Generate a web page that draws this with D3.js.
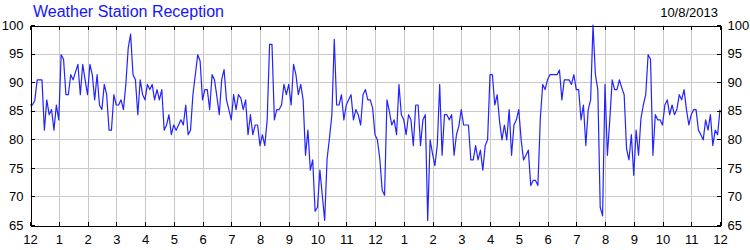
<!DOCTYPE html>
<html>
<head>
<meta charset="utf-8">
<script src="https://cdn.jsdelivr.net/npm/d3@7"></script>
<style>
  html, body { margin: 0; padding: 0; background: #fff; }
  svg { display: block; }
</style>
</head>
<body>
<svg id="chart" width="750" height="250"></svg>
<script>
const title = "Weather Station Reception";
const dateLabel = "10/8/2013";
const intervalMinutes = 5;
const yTicks = [65, 70, 75, 80, 85, 90, 95, 100];
const xTickHours = [0,1,2,3,4,5,6,7,8,9,10,11,12,13,14,15,16,17,18,19,20,21,22,23,24];
const xTickLabels = ["12","1","2","3","4","5","6","7","8","9","10","11","12","1","2","3","4","5","6","7","8","9","10","11","12"];
const reception = [
  86.0,86.0,86.8,90.4,90.4,90.4,81.6,86.9,84.3,85.2,81.6,86.0,83.4,94.8,94.0,87.8,87.8,91.3,90.4,91.8,
  93.1,87.8,93.1,90.4,87.8,93.1,91.3,86.9,91.3,86.0,85.2,89.6,87.8,81.6,81.6,87.8,86.0,86.0,86.9,85.2,
  89.6,96.0,98.4,91.3,90.4,84.3,90.4,87.8,86.9,89.6,88.7,89.6,86.9,88.7,86.9,88.7,81.6,82.5,84.3,80.8,
  82.5,81.6,82.5,83.4,82.5,86.0,80.8,81.6,87.8,91.3,94.8,93.7,86.9,88.7,88.7,85.2,91.3,90.4,87.5,84.3,
  90.4,92.2,86.9,85.2,83.4,87.8,85.2,87.8,87.2,85.2,86.9,80.8,84.3,80.8,82.5,82.5,78.9,80.8,78.9,83.4,
  96.6,96.6,83.4,85.2,85.2,86.0,89.6,87.8,89.6,86.0,93.1,91.3,87.8,89.6,86.9,77.2,81.6,74.6,76.4,67.4,
  68.1,74.6,70.2,65.8,76.6,80.2,84.3,97.5,86.0,86.0,87.8,83.4,86.0,86.9,87.8,83.4,85.2,84.3,82.5,87.8,
  88.7,86.9,86.9,85.5,80.8,79.9,76.6,71.1,70.2,86.9,84.9,82.5,83.4,80.8,89.6,84.3,83.4,80.8,84.3,83.4,
  78.9,86.0,86.0,78.9,83.4,84.3,65.8,79.9,77.5,75.4,79.0,89.6,77.2,84.3,84.3,83.4,84.3,77.2,80.8,82.3,
  85.2,82.5,82.5,82.5,76.4,76.4,78.9,76.4,78.1,74.6,78.9,79.9,91.3,91.3,86.0,87.8,83.1,79.9,82.5,79.9,
  85.2,77.2,82.5,83.4,85.2,79.9,76.4,77.2,78.1,71.9,72.8,72.8,71.9,83.6,89.6,88.7,90.4,91.3,91.3,91.3,
  91.3,92.1,86.9,90.4,90.4,90.4,89.6,91.3,88.7,88.7,83.4,86.0,78.9,85.2,86.9,100.0,91.3,88.7,68.1,66.6,
  89.6,77.2,83.4,90.4,88.7,88.7,90.4,89.0,87.8,78.3,76.4,80.8,73.7,81.6,77.2,83.6,86.0,87.8,94.8,94.0,
  77.2,84.3,83.4,83.4,82.5,86.0,86.9,84.3,86.0,84.3,85.2,87.8,86.9,88.7,85.2,82.5,84.3,85.2,85.2,81.6,
  80.8,79.9,83.4,81.6,84.3,78.9,81.6,80.8,85.2
];

const svg = d3.select("#chart");
const W = 750, H = 250;
const m = { left: 30, right: 30, top: 25, bottom: 25 };
const x = d3.scaleLinear().domain([0, 24]).range([m.left, W - m.right]);
const y = d3.scaleLinear().domain([65, 100]).range([H - m.bottom, m.top]);
const font = "Arial, 'Liberation Sans', sans-serif";

// gridlines
const grid = svg.append("g").attr("stroke", "#c8c8c8").attr("stroke-width", 1).attr("shape-rendering", "crispEdges");
grid.selectAll("line.v").data(xTickHours.slice(1, -1)).join("line")
  .attr("x1", d => Math.round(x(d)) + 0.5).attr("x2", d => Math.round(x(d)) + 0.5)
  .attr("y1", y(100)).attr("y2", y(65));
grid.selectAll("line.h").data(yTicks.slice(1, -1)).join("line")
  .attr("class", "h")
  .attr("y1", d => Math.round(y(d)) + 0.5).attr("y2", d => Math.round(y(d)) + 0.5)
  .attr("x1", x(0)).attr("x2", x(24));

// data line
const line = d3.line()
  .x((d, i) => x(i * intervalMinutes / 60))
  .y(d => y(d));
svg.append("path").datum(reception)
  .attr("fill", "none").attr("stroke", "#2323ff").attr("stroke-width", 1.2)
  .attr("stroke-linejoin", "round")
  .attr("d", line);

// axes (ticks inside)
const tick = 4;
const axB = svg.append("g").attr("transform", `translate(0,${y(65) + 0.5})`)
  .call(d3.axisBottom(x).tickValues(xTickHours).tickSize(-tick).tickSizeOuter(0).tickFormat((d, i) => xTickLabels[i]));
const axT = svg.append("g").attr("transform", `translate(0,${y(100) + 0.5})`)
  .call(d3.axisTop(x).tickValues(xTickHours).tickSize(-tick).tickSizeOuter(0).tickFormat(""));
const axL = svg.append("g").attr("transform", `translate(${x(0) + 0.5},0)`)
  .call(d3.axisLeft(y).tickValues(yTicks).tickSize(-tick).tickSizeOuter(0).tickFormat(d3.format("d")));
const axR = svg.append("g").attr("transform", `translate(${x(24) + 0.5},0)`)
  .call(d3.axisRight(y).tickValues(yTicks).tickSize(-tick).tickSizeOuter(0).tickFormat(d3.format("d")));

[axB, axT, axL, axR].forEach(g => {
  g.attr("font-family", font).attr("font-size", 13);
  g.selectAll("path, line").attr("stroke", "#000").attr("shape-rendering", "crispEdges");
  g.selectAll("text").attr("fill", "#000");
});
axB.selectAll("text").attr("dy", null).attr("y", 18);
axL.selectAll("text").attr("x", -7);
axR.selectAll("text").attr("x", 7);

// title & date
svg.append("text").attr("x", 33).attr("y", 17).attr("font-family", font).attr("font-size", 16)
  .attr("fill", "#1414ff").text(title);
svg.append("text").attr("x", 718).attr("y", 16.5).attr("text-anchor", "end").attr("font-family", font)
  .attr("font-size", 13).attr("fill", "#000").text(dateLabel);
</script>
</body>
</html>
